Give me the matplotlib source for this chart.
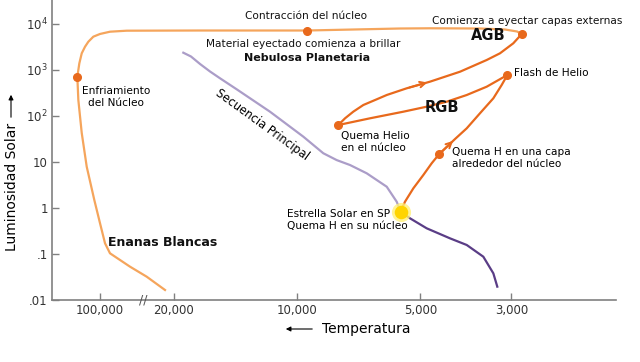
"""Diagrama HR: evolución de una estrella de tipo solar."""

import numpy as np
import matplotlib
matplotlib.use("Agg")
import matplotlib.pyplot as plt
from matplotlib.patches import FancyArrowPatch
from matplotlib.ticker import NullLocator

# --- datos (temperatura en K, luminosidad en L_sol) ---
# secuencia principal, tramo superior (lavanda) hasta el Sol
ms_upper_temp = [18940, 18140, 17240, 16300, 15410, 14030, 11640, 9651, 8629,
                 8002, 7427, 6761, 6042, 5713, 5587]
ms_upper_lum = [2377, 1965, 1350, 927, 660, 380, 124, 35.5, 15.5,
                11.0, 8.6, 5.68, 2.90, 1.37, 0.831]
# secuencia principal, tramo inferior (morado oscuro) desde el Sol
ms_lower_temp = [5587, 5302, 4828, 4235, 3855, 3512, 3320, 3247]
ms_lower_lum = [0.831, 0.597, 0.362, 0.219, 0.157, 0.0873, 0.038, 0.0195]

# rama de gigantes rojas: del Sol al flash de helio
rgb_temp = [5587, 5453, 5203, 4920, 4694, 4505, 4117, 3855, 3579, 3320, 3168, 3069]
rgb_lum = [0.831, 1.37, 2.68, 5.21, 9.37, 14.7, 31.6, 54.0, 114.5, 242.5, 472, 778]
# del flash de helio a la quema de helio en el núcleo
hb_temp = [3069, 3446, 3855, 4313, 4828, 5505, 6637, 7930]
hb_lum = [778, 433.5, 286, 204.6, 159.3, 124, 89.1, 63.7]
# rama asintótica: de la quema de helio al final del AGB
agb_temp = [7930, 7636, 7292, 6890, 6391, 6042, 5401, 4740, 4003, 3446, 3198,
            2968, 2830]
agb_lum = [63.7, 89.1, 124, 173.5, 230.7, 286, 400, 557, 918, 1650, 2307,
           3805, 6070]

# post-AGB, nebulosa planetaria y enana blanca
post_agb_temp = [2830, 2906, 3110, 3580, 4740, 5610, 9450, 17240, 55780, 80400,
                 100000, 115800, 129100, 138800, 149200, 157200, 164300, 160700,
                 149200, 133800, 113300, 100000, 89660, 80400, 51900, 36020,
                 24140]
post_agb_lum = [6070, 6870, 7590, 7980, 8070, 7980, 7220, 7220, 7150, 6800,
                6070, 5300, 4121, 3210, 2307, 1399, 715, 223,
                42.7, 7.9, 1.49, 0.465, 0.171, 0.1035, 0.053, 0.0321,
                0.0165]

# puntos destacados
stage_temp = [164300, 9450, 2830, 3069, 7930, 4505]
stage_lum = [715, 7220, 6070, 778, 63.7, 14.7]
sun_temp = 5587
sun_lum = 0.831

temp_ticks = [100000, 20000, 10000, 5000, 3000]
temp_labels = ["100,000", "20,000", "10,000", "5,000", "3,000"]
lum_ticks = [0.01, 0.1, 1, 10, 100, 1000, 10000]
lum_labels = [".01", ".1", "1", "10", r"$10^2$", r"$10^3$", r"$10^4$"]

LIGHT_ORANGE = "#f5a55c"
DARK_ORANGE = "#e8691c"
LAVENDER = "#ab9dc8"
PURPLE = "#5a3d86"

# eje de temperatura cortado: por encima de 20,000 K la escala se comprime
BREAK = np.log10(20000)
SQUEEZE = 0.2568


def temp_fwd(t):
    lt = np.log10(np.clip(t, 1e-9, None))
    return np.where(lt <= BREAK, lt, BREAK + (lt - BREAK) * SQUEEZE)


def temp_inv(v):
    v = np.asarray(v, dtype=float)
    return np.where(v <= BREAK, 10 ** v, 10 ** (BREAK + (v - BREAK) / SQUEEZE))


def at(x, y):
    """Posición en píxeles de la imagen -> fracción de figura."""
    return x / 640, 1 - y / 362


fig = plt.figure(figsize=(6.4, 3.62), dpi=100)
ax = fig.add_axes([52 / 640, 1 - 300 / 362, 564 / 640, 300 / 362])

ax.set_xscale("function", functions=(temp_fwd, temp_inv))
ax.set_yscale("log")
ax.set_xlim(285900, 1667)
ax.set_ylim(0.01, 33240)

ax.plot(ms_upper_temp, ms_upper_lum, color=LAVENDER, lw=1.6, zorder=2)
ax.plot(ms_lower_temp, ms_lower_lum, color=PURPLE, lw=1.6, zorder=2)
ax.plot(post_agb_temp, post_agb_lum, color=LIGHT_ORANGE, lw=1.6, zorder=2)
ax.plot(rgb_temp, rgb_lum, color=DARK_ORANGE, lw=1.6, zorder=3)
ax.plot(hb_temp, hb_lum, color=DARK_ORANGE, lw=1.6, zorder=3)
ax.plot(agb_temp, agb_lum, color=DARK_ORANGE, lw=1.6, zorder=3)

# flechas de sentido
ax.annotate("", xy=(rgb_temp[6], rgb_lum[6]), xytext=(rgb_temp[5], rgb_lum[5]),
            arrowprops=dict(arrowstyle="->", color=DARK_ORANGE, lw=1.4,
                            mutation_scale=10), zorder=3)
ax.annotate("", xy=(agb_temp[7], agb_lum[7]), xytext=(agb_temp[6], agb_lum[6]),
            arrowprops=dict(arrowstyle="->", color=DARK_ORANGE, lw=1.4,
                            mutation_scale=10), zorder=3)

ax.plot(stage_temp, stage_lum, "o", color=DARK_ORANGE, ms=5.5, zorder=4)
ax.scatter([sun_temp], [sun_lum], s=190, color="#fff07a", alpha=0.8, zorder=5,
           linewidths=0)
ax.scatter([sun_temp], [sun_lum], s=95, color="#ffd400", zorder=6, linewidths=0)

for side in ["top", "right"]:
    ax.spines[side].set_visible(False)
for side in ["left", "bottom"]:
    ax.spines[side].set_color("#808080")
    ax.spines[side].set_linewidth(1.2)

ax.set_xticks(temp_ticks)
ax.set_xticklabels(temp_labels)
ax.set_yticks(lum_ticks)
ax.set_yticklabels(lum_labels)
ax.xaxis.set_minor_locator(NullLocator())
ax.yaxis.set_minor_locator(NullLocator())
ax.tick_params(direction="in", length=5, width=1, color="#808080",
               labelsize=8.5, labelcolor="#333333", pad=3)

# textos
txt = dict(fontsize=7.6, color="#111111", ha="center", va="center")
fig.text(*at(306, 16), "Contracción del núcleo", **txt)
fig.text(*at(303, 44), "Material eyectado comienza a brillar", **txt)
fig.text(*at(307, 58), "Nebulosa Planetaria", fontsize=8, fontweight="bold",
         ha="center", va="center", color="#111111")
fig.text(*at(527, 21), "Comienza a eyectar capas externas", **txt)
fig.text(*at(488, 36), "AGB", fontsize=10.5, fontweight="bold",
         ha="center", va="center", color="#111111")
fig.text(*at(442, 108), "RGB", fontsize=10.5, fontweight="bold",
         ha="center", va="center", color="#111111")
fig.text(*at(514, 73), "Flash de Helio", fontsize=7.6, ha="left", va="center")
fig.text(*at(452, 158), "Quema H en una capa\nalrededor del núcleo",
         fontsize=7.6, ha="left", va="center", linespacing=1.25)
fig.text(*at(341, 142), "Quema Helio\nen el núcleo", fontsize=7.6,
         ha="left", va="center", linespacing=1.25)
fig.text(*at(287, 220), "Estrella Solar en SP\nQuema H en su núcleo",
         fontsize=7.6, ha="left", va="center", linespacing=1.25)
fig.text(*at(116, 97), "Enfriamiento\ndel Núcleo", fontsize=7.6,
         ha="center", va="center", linespacing=1.25)
fig.text(*at(108, 242), "Enanas Blancas", fontsize=9, fontweight="bold",
         ha="left", va="center", color="#111111")
fig.text(*at(262, 125), "Secuencia Principal", fontsize=8.3, rotation=-36,
         ha="center", va="center", rotation_mode="anchor")
fig.text(*at(143, 300), "//", fontsize=9, color="#555555", ha="center",
         va="center")

# rótulos de ejes con flechas
fig.text(*at(12, 187), "Luminosidad Solar", rotation=90, fontsize=10,
         ha="center", va="center")
fig.text(*at(366, 329), "Temperatura", fontsize=10, ha="center", va="center")
fig.add_artist(FancyArrowPatch(
    at(11, 120), at(11, 92), transform=fig.transFigure,
    arrowstyle="-|>", mutation_scale=7, lw=0.8, color="black"))
fig.add_artist(FancyArrowPatch(
    at(315, 329), at(283, 329), transform=fig.transFigure,
    arrowstyle="-|>", mutation_scale=7, lw=0.8, color="black"))

fig.savefig("out.png", dpi=100)
